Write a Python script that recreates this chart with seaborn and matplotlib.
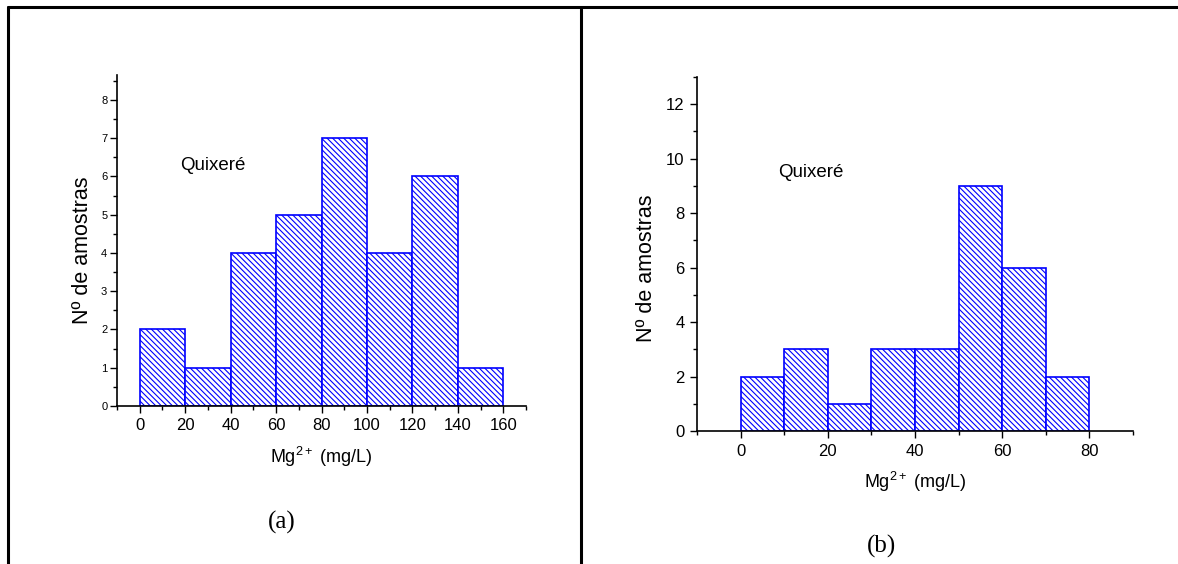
import pandas as pd
import seaborn as sns
import matplotlib.pyplot as plt
from matplotlib.lines import Line2D
from matplotlib.ticker import MultipleLocator

# histogram (a): bins of 20 mg/L
edges_a = [0, 20, 40, 60, 80, 100, 120, 140, 160]
counts_a = [2, 1, 4, 5, 7, 4, 6, 1]

# histogram (b): bins of 10 mg/L
edges_b = [0, 10, 20, 30, 40, 50, 60, 70, 80]
counts_b = [2, 3, 1, 3, 3, 9, 6, 2]

sns.set_style('ticks')
plt.rcParams['font.family'] = ['Liberation Sans', 'DejaVu Sans']
plt.rcParams['mathtext.fontset'] = 'custom'
plt.rcParams['mathtext.rm'] = 'Liberation Sans'
plt.rcParams['mathtext.it'] = 'Liberation Sans'
plt.rcParams['hatch.linewidth'] = 0.8
for k in ['text.color', 'axes.labelcolor', 'xtick.color', 'ytick.color', 'axes.edgecolor']:
    plt.rcParams[k] = 'black'

fig = plt.figure(figsize=(11.78, 5.64), dpi=100)

# table-like frame round the two panels
fig.add_artist(Line2D([0.0068, 1.0], [1 - 7/564, 1 - 7/564], transform=fig.transFigure, color='black', lw=2.2))
fig.add_artist(Line2D([7.5/1178, 7.5/1178], [0, 1 - 7/564], transform=fig.transFigure, color='black', lw=2.2))
fig.add_artist(Line2D([581/1178, 581/1178], [0, 1 - 7/564], transform=fig.transFigure, color='black', lw=2.2))

ax1 = fig.add_axes([117/1178, 1 - 406/564, 409/1178, 331/564])
ax2 = fig.add_axes([697/1178, 1 - 431/564, 436/1178, 354/564])


def draw_hist(ax, edges, counts):
    df = pd.DataFrame({
        'mid': [(edges[i] + edges[i + 1]) / 2 for i in range(len(counts))],
        'n': counts,
    })
    sns.histplot(data=df, x='mid', weights='n', bins=edges, ax=ax,
                 stat='count', color='white', edgecolor='#0000ff',
                 linewidth=1.2, alpha=1)
    for p in ax.patches:
        p.set_hatch('\\' * 6)
        p.set_edgecolor('#0000ff')
        p.set_facecolor('white')
    sns.despine(ax=ax)
    ax.spines['left'].set_linewidth(1.2)
    ax.spines['bottom'].set_linewidth(1.2)
    ax.tick_params(which='major', direction='out', length=5, width=1, color='black')
    ax.tick_params(which='minor', direction='out', length=3, width=1, color='black')


draw_hist(ax1, edges_a, counts_a)
ax1.set_xlim(-10, 170)
ax1.set_ylim(0, 8.65)
ax1.xaxis.set_major_locator(MultipleLocator(20))
ax1.xaxis.set_minor_locator(MultipleLocator(10))
ax1.yaxis.set_major_locator(MultipleLocator(1))
ax1.yaxis.set_minor_locator(MultipleLocator(0.5))
ax1.tick_params(axis='y', labelsize=8, pad=2)
ax1.tick_params(axis='x', labelsize=12, pad=4)
ax1.set_xlabel('Mg$^{2+}$ (mg/L)', fontsize=13, labelpad=8)
ax1.set_ylabel('N\u00ba de amostras', fontsize=15.5)
ax1.yaxis.set_label_coords(-0.058, 0.47)
ax1.text((180 - 117) / 409, 1 - (166 - 75) / 331, 'Quixer\u00e9', fontsize=13.5,
         va='center', ha='left', transform=ax1.transAxes)

draw_hist(ax2, edges_b, counts_b)
ax2.set_xlim(-10, 90)
ax2.set_ylim(0, 13)
ax2.xaxis.set_major_locator(MultipleLocator(20))
ax2.xaxis.set_minor_locator(MultipleLocator(10))
ax2.yaxis.set_major_locator(MultipleLocator(2))
ax2.yaxis.set_minor_locator(MultipleLocator(1))
ax2.tick_params(axis='both', labelsize=12, pad=4)
ax2.set_xlabel('Mg$^{2+}$ (mg/L)', fontsize=13, labelpad=8)
ax2.set_ylabel('N\u00ba de amostras', fontsize=15.5)
ax2.yaxis.set_label_coords(-0.092, 0.46)
ax2.text((778 - 697) / 436, 1 - (172 - 77) / 354, 'Quixer\u00e9', fontsize=13.5,
         va='center', ha='left', transform=ax2.transAxes)

fig.text(282/1178, 1 - 522/564, '(a)', fontsize=18, family=['Liberation Serif', 'DejaVu Serif'],
         ha='center', va='center')
fig.text(882/1178, 1 - 546/564, '(b)', fontsize=18, family=['Liberation Serif', 'DejaVu Serif'],
         ha='center', va='center')

fig.savefig('out.png', dpi=100)
